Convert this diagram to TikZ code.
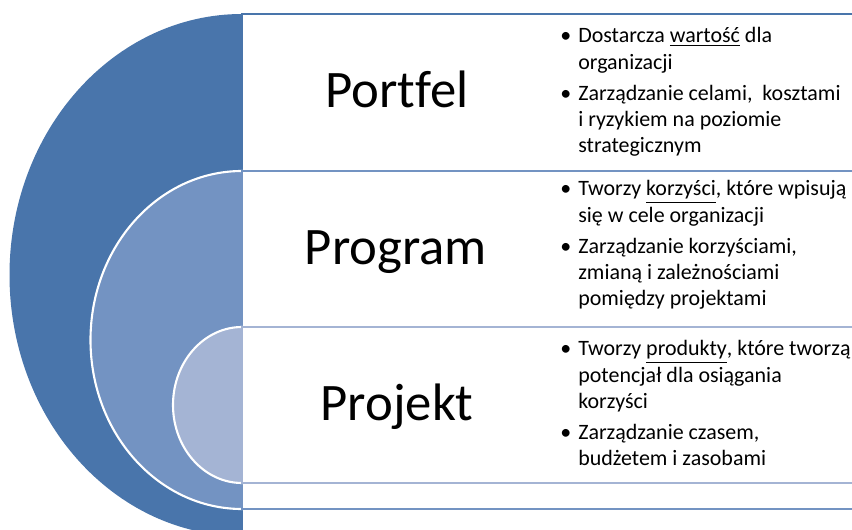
\documentclass[tikz,border=0pt]{standalone}
\usepackage{fontspec}
\setmainfont[Ligatures=NoCommon]{Carlito}
\usepackage{xcolor}
\definecolor{portfelblue}{RGB}{73,117,171}
\definecolor{programblue}{RGB}{115,147,194}
\definecolor{projektblue}{RGB}{164,180,212}
\tikzset{
  ring/.style={draw=white, line width=1.2pt},
  band/.style={fill=white, line width=1.4pt},
  title/.style={anchor=base, inner sep=0pt, font=\fontsize{30}{36}\selectfont},
  desc/.style={anchor=base west, inner sep=0pt, font=\fontsize{12.5}{14.8}\selectfont}
}
\newcommand{\pkt}{\textbullet}
\begin{document}
\begin{tikzpicture}[x=0.02cm, y=-0.02cm]
\useasboundingbox (0,0) rectangle (852,530);
\clip (0,0) rectangle (852,530);
% outer level
\fill[portfelblue] (242,275) ellipse [x radius=232.5, y radius=261];
\draw[band, draw=portfelblue] (242,14) rectangle (880,536);
% middle level
\fill[programblue] (242,340) ellipse [x radius=151.5, y radius=169];
\draw[ring] (242,340) ellipse [x radius=151.5, y radius=169];
\draw[band, draw=programblue] (242,171) rectangle (880,509);
% inner level
\fill[projektblue] (242,405) ellipse [x radius=69, y radius=78];
\draw[ring] (242,405) ellipse [x radius=69, y radius=78];
\draw[band, draw=projektblue] (242,327) rectangle (880,483);
% titles
\node[title] (portfel) at (397,108) {Portfel};
\node[title] (program) at (396,265) {Program};
\node[title] (projekt) at (397,420) {Projekt};
% descriptions
\node[desc] (portfel-opis) at (560,43) {\begin{tabular}[t]{@{}l@{\hspace{4pt}}l@{}}
\pkt & Dostarcza \underline{wartość} dla\\
 & organizacji\\[3.4pt]
\pkt & Zarządzanie celami,\ \ kosztami\\
 & i ryzykiem na poziomie\\
 & strategicznym
\end{tabular}};
\node[desc] (program-opis) at (560,196) {\begin{tabular}[t]{@{}l@{\hspace{4pt}}l@{}}
\pkt & Tworzy \underline{korzyści}, które wpisują\\
 & się w cele organizacji\\[3.4pt]
\pkt & Zarządzanie korzyściami,\\
 & zmianą i zależnościami\\
 & pomiędzy projektami
\end{tabular}};
\node[desc] (projekt-opis) at (560,356) {\begin{tabular}[t]{@{}l@{\hspace{4pt}}l@{}}
\pkt & Tworzy \underline{produkty}, które tworzą\\
 & potencjał dla osiągania\\
 & korzyści\\[3.4pt]
\pkt & Zarządzanie czasem,\\
 & budżetem i zasobami
\end{tabular}};
\end{tikzpicture}
\end{document}
